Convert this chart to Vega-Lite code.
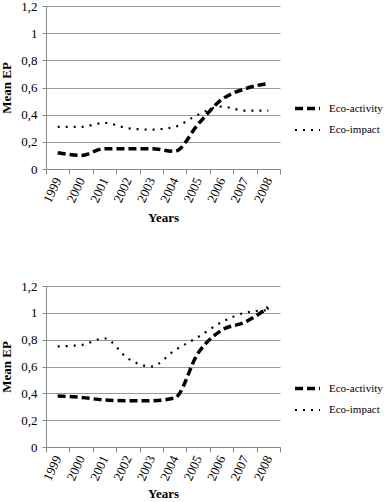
{
  "$schema": "https://vega.github.io/schema/vega-lite/v6.json",
  "background": "white",
  "padding": {"left": 0, "top": 0, "right": 0, "bottom": 0},
  "spacing": 55,
  "config": {
    "view": {"stroke": null},
    "font": "Liberation Serif",
    "text": {"font": "Liberation Serif"},
    "axis": {"labelFont": "Liberation Serif", "titleFont": "Liberation Serif", "labelColor": "#000", "titleColor": "#000", "labelFontSize": 13, "titleFontSize": 13, "titleFontWeight": "bold"},
    "legend": {"labelFont": "Liberation Serif", "labelFontSize": 11, "labelColor": "#000"}
  },
  "vconcat": [
    {
      "width": 234,
      "height": 163,
      "data": {"values": [
        {"year": "1999", "series": "Eco-activity", "ep": 0.12},
        {"year": "2000", "series": "Eco-activity", "ep": 0.10},
        {"year": "2001", "series": "Eco-activity", "ep": 0.15},
        {"year": "2002", "series": "Eco-activity", "ep": 0.15},
        {"year": "2003", "series": "Eco-activity", "ep": 0.15},
        {"year": "2004", "series": "Eco-activity", "ep": 0.13},
        {"year": "2005", "series": "Eco-activity", "ep": 0.33},
        {"year": "2006", "series": "Eco-activity", "ep": 0.51},
        {"year": "2007", "series": "Eco-activity", "ep": 0.59},
        {"year": "2008", "series": "Eco-activity", "ep": 0.63},
        {"year": "1999", "series": "Eco-impact", "ep": 0.31},
        {"year": "2000", "series": "Eco-impact", "ep": 0.31},
        {"year": "2001", "series": "Eco-impact", "ep": 0.34},
        {"year": "2002", "series": "Eco-impact", "ep": 0.30},
        {"year": "2003", "series": "Eco-impact", "ep": 0.29},
        {"year": "2004", "series": "Eco-impact", "ep": 0.31},
        {"year": "2005", "series": "Eco-impact", "ep": 0.40},
        {"year": "2006", "series": "Eco-impact", "ep": 0.46},
        {"year": "2007", "series": "Eco-impact", "ep": 0.43},
        {"year": "2008", "series": "Eco-impact", "ep": 0.43}
      ]},
      "mark": {"type": "line", "color": "#000", "interpolate": "monotone", "strokeCap": "butt"},
      "encoding": {
        "x": {"field": "year", "type": "ordinal", "title": "Years",
          "scale": {"type": "band", "paddingInner": 0, "paddingOuter": 0},
          "axis": {"labelFont": "Liberation Serif", "titleFont": "Liberation Serif", "labelAngle": -65, "tickBand": "extent", "domainColor": "#888", "tickColor": "#888", "tickSize": 5, "labelPadding": 4, "titlePadding": 7, "grid": false}},
        "y": {"field": "ep", "type": "quantitative", "title": "Mean EP",
          "scale": {"domain": [0, 1.2], "nice": false},
          "axis": {"labelFont": "Liberation Serif", "titleFont": "Liberation Serif", "values": [0, 0.2, 0.4, 0.6, 0.8, 1, 1.2], "labelExpr": "replace(format(datum.value, '.1~f'), '.', ',')", "domain": true, "domainColor": "#888", "ticks": true, "tickSize": 4, "tickColor": "#888", "labelPadding": 5, "gridColor": "#999", "gridWidth": 1, "titlePadding": 7}},
        "strokeDash": {"field": "series", "type": "nominal", "title": null,
          "scale": {"domain": ["Eco-activity", "Eco-impact"], "range": [[8, 4], [2, 6]]},
          "legend": {"labelFont": "Liberation Serif", "orient": "none", "legendX": 247, "legendY": 88, "symbolSize": 625, "symbolStrokeColor": "#000", "rowPadding": -2, "labelOffset": 7}},
        "strokeWidth": {"field": "series", "type": "nominal", "title": null,
          "scale": {"domain": ["Eco-activity", "Eco-impact"], "range": [3.5, 2.2]}}
      }
    },
    {
      "width": 234,
      "height": 161,
      "data": {"values": [
        {"year": "1999", "series": "Eco-activity", "ep": 0.38},
        {"year": "2000", "series": "Eco-activity", "ep": 0.37},
        {"year": "2001", "series": "Eco-activity", "ep": 0.35},
        {"year": "2002", "series": "Eco-activity", "ep": 0.345},
        {"year": "2003", "series": "Eco-activity", "ep": 0.345},
        {"year": "2004", "series": "Eco-activity", "ep": 0.365},
        {"year": "2005", "series": "Eco-activity", "ep": 0.70},
        {"year": "2006", "series": "Eco-activity", "ep": 0.87},
        {"year": "2007", "series": "Eco-activity", "ep": 0.93},
        {"year": "2008", "series": "Eco-activity", "ep": 1.04},
        {"year": "1999", "series": "Eco-impact", "ep": 0.75},
        {"year": "2000", "series": "Eco-impact", "ep": 0.76},
        {"year": "2001", "series": "Eco-impact", "ep": 0.81},
        {"year": "2002", "series": "Eco-impact", "ep": 0.66},
        {"year": "2003", "series": "Eco-impact", "ep": 0.60},
        {"year": "2004", "series": "Eco-impact", "ep": 0.72},
        {"year": "2005", "series": "Eco-impact", "ep": 0.82},
        {"year": "2006", "series": "Eco-impact", "ep": 0.93},
        {"year": "2007", "series": "Eco-impact", "ep": 1.0},
        {"year": "2008", "series": "Eco-impact", "ep": 1.02}
      ]},
      "mark": {"type": "line", "color": "#000", "interpolate": "monotone", "strokeCap": "butt"},
      "encoding": {
        "x": {"field": "year", "type": "ordinal", "title": "Years",
          "scale": {"type": "band", "paddingInner": 0, "paddingOuter": 0},
          "axis": {"labelFont": "Liberation Serif", "titleFont": "Liberation Serif", "labelAngle": -65, "tickBand": "extent", "domainColor": "#888", "tickColor": "#888", "tickSize": 5, "labelPadding": 4, "titlePadding": 5, "grid": false}},
        "y": {"field": "ep", "type": "quantitative", "title": "Mean EP",
          "scale": {"domain": [0, 1.2], "nice": false},
          "axis": {"labelFont": "Liberation Serif", "titleFont": "Liberation Serif", "values": [0, 0.2, 0.4, 0.6, 0.8, 1, 1.2], "labelExpr": "replace(format(datum.value, '.1~f'), '.', ',')", "domain": true, "domainColor": "#888", "ticks": true, "tickSize": 4, "tickColor": "#888", "labelPadding": 5, "gridColor": "#999", "gridWidth": 1, "titlePadding": 7}},
        "strokeDash": {"field": "series", "type": "nominal", "title": null,
          "scale": {"domain": ["Eco-activity", "Eco-impact"], "range": [[8, 4], [2, 6]]},
          "legend": {"labelFont": "Liberation Serif", "orient": "none", "legendX": 247, "legendY": 88, "symbolSize": 625, "symbolStrokeColor": "#000", "rowPadding": -2, "labelOffset": 7}},
        "strokeWidth": {"field": "series", "type": "nominal", "title": null,
          "scale": {"domain": ["Eco-activity", "Eco-impact"], "range": [3.5, 2.2]}}
      }
    }
  ],
  "resolve": {"scale": {"strokeDash": "independent", "strokeWidth": "independent"}, "legend": {"strokeDash": "independent", "strokeWidth": "independent"}}
}
